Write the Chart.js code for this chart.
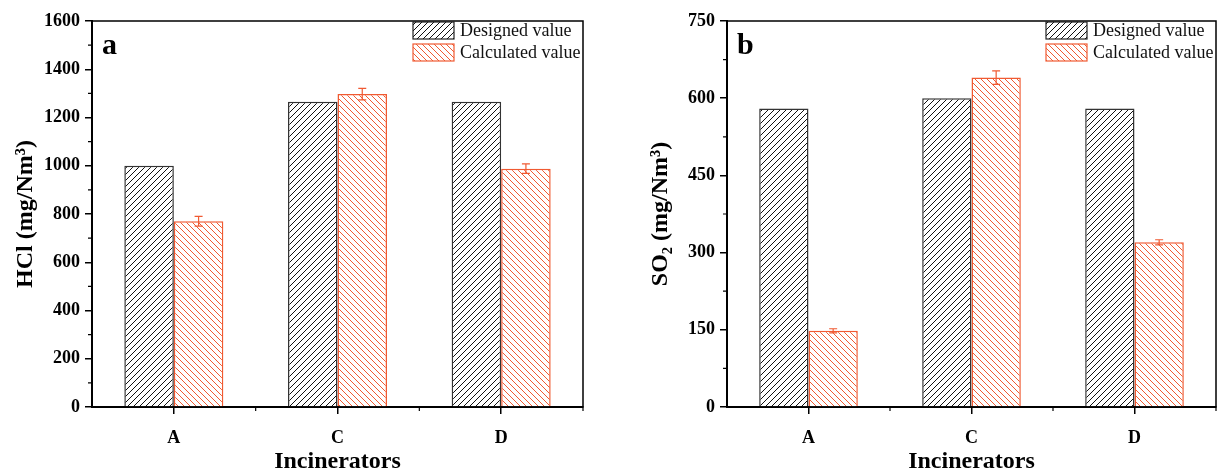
<!DOCTYPE html>
<html>
<head>
<meta charset="utf-8">
<script src="https://cdn.jsdelivr.net/npm/chart.js@4/dist/chart.umd.min.js"></script>
<style>
  body { margin: 0; background: #fff; }
  #wrapA { position: absolute; left: 0; top: 0; }
  #wrapB { position: absolute; left: 608px; top: 0; }
</style>
</head>
<body>
<div id="wrapA"><canvas id="chartA" width="608" height="474"></canvas></div>
<div id="wrapB"><canvas id="chartB" width="609" height="474"></canvas></div>
<script>
const categories = ["A", "C", "D"];
const legendLabels = ["Designed value", "Calculated value"];

const hclDesigned = [1000, 1265, 1265];
const hclCalculated = [770, 1297, 988];
const hclError = [20, 24, 20];

const so2Designed = [580, 600, 580];
const so2Calculated = [148, 640, 320];
const so2Error = [4, 13, 5];

const hclAxis = { min: 0, max: 1600, step: 200 };
const so2Axis = { min: 0, max: 750, step: 150 };

const orange = "#f05a32";
const fontFam = "'Liberation Serif', 'Times New Roman', serif";

function makeHatch(color, back) {
  const c = document.createElement("canvas");
  c.width = 6;
  c.height = 6;
  const g = c.getContext("2d");
  g.fillStyle = "#fff";
  g.fillRect(0, 0, 6, 6);
  g.strokeStyle = color;
  g.lineWidth = 1;
  g.beginPath();
  if (back) {
    g.moveTo(0, 0); g.lineTo(6, 6);
    g.moveTo(5, -1); g.lineTo(7, 1);
    g.moveTo(-1, 5); g.lineTo(1, 7);
  } else {
    g.moveTo(0, 6); g.lineTo(6, 0);
    g.moveTo(-1, 1); g.lineTo(1, -1);
    g.moveTo(5, 7); g.lineTo(7, 5);
  }
  g.stroke();
  return g.createPattern(c, "repeat");
}

const blackHatch = makeHatch("#111", false);
const orangeHatch = makeHatch(orange, true);

// error bars, legend, frame, minor ticks, panel letter
const extras = {
  id: "extras",
  afterDatasetsDraw(chart, args, opts) {
    const ctx = chart.ctx;
    const ys = chart.scales.y;
    const meta = chart.getDatasetMeta(1);
    const vals = chart.data.datasets[1].data;
    ctx.save();
    ctx.strokeStyle = orange;
    ctx.lineWidth = 1.2;
    meta.data.forEach((bar, i) => {
      const top = ys.getPixelForValue(vals[i] + opts.errors[i]);
      const bot = ys.getPixelForValue(vals[i] - opts.errors[i]);
      ctx.beginPath();
      ctx.moveTo(bar.x, top); ctx.lineTo(bar.x, bot);
      ctx.moveTo(bar.x - 4, top); ctx.lineTo(bar.x + 4, top);
      ctx.moveTo(bar.x - 4, bot); ctx.lineTo(bar.x + 4, bot);
      ctx.stroke();
    });
    ctx.restore();
  },
  afterDraw(chart, args, opts) {
    const ctx = chart.ctx;
    const a = chart.chartArea;
    const ys = chart.scales.y;
    ctx.save();
    // frame top and right
    ctx.strokeStyle = "#000";
    ctx.lineWidth = 1.5;
    ctx.beginPath();
    ctx.moveTo(a.left, a.top); ctx.lineTo(a.right, a.top); ctx.lineTo(a.right, a.bottom);
    ctx.stroke();
    // minor ticks
    ctx.lineWidth = 1.2;
    ctx.beginPath();
    for (let v = opts.axis.min + opts.axis.step / 2; v < opts.axis.max; v += opts.axis.step) {
      const y = ys.getPixelForValue(v);
      ctx.moveTo(a.left, y); ctx.lineTo(a.left - 4, y);
    }
    const cw = (a.right - a.left) / categories.length;
    for (let i = 1; i <= categories.length; i++) {
      const x = a.left + i * cw;
      ctx.moveTo(x, a.bottom); ctx.lineTo(x, a.bottom + 4);
    }
    ctx.stroke();
    // panel letter
    ctx.fillStyle = "#000";
    ctx.font = "bold 30px " + fontFam;
    ctx.textBaseline = "alphabetic";
    ctx.textAlign = "left";
    ctx.fillText(opts.letter, a.left + 10, a.top + 33);
    // legend
    const bx = a.right - 170;
    const fills = [blackHatch, orangeHatch];
    const strokes = ["#222", orange];
    ctx.font = "18px " + fontFam;
    ctx.textBaseline = "middle";
    legendLabels.forEach((lab, i) => {
      const by = a.top + 1 + i * 22;
      ctx.fillStyle = fills[i];
      ctx.fillRect(bx, by, 41, 17);
      ctx.strokeStyle = strokes[i];
      ctx.lineWidth = 1.2;
      ctx.strokeRect(bx, by, 41, 17);
      ctx.fillStyle = "#111";
      ctx.fillText(lab, bx + 47, by + 9);
    });
    ctx.restore();
  }
};

function makeChart(id, designed, calculated, errors, axis, yTitle, yWidth, titlePad, rightPad, letter) {
  return new Chart(document.getElementById(id), {
    type: "bar",
    data: {
      labels: categories,
      datasets: [
        {
          label: legendLabels[0],
          data: designed,
          backgroundColor: blackHatch,
          borderColor: "#333",
          borderWidth: 1.5
        },
        {
          label: legendLabels[1],
          data: calculated,
          backgroundColor: orangeHatch,
          borderColor: orange,
          borderWidth: 1.5
        }
      ]
    },
    options: {
      responsive: false,
      animation: false,
      layout: { padding: { top: 21, right: rightPad, left: 0, bottom: 0 } },
      datasets: { bar: { barPercentage: 1, categoryPercentage: 0.605 } },
      plugins: {
        legend: { display: false },
        tooltip: { enabled: false },
        extras: { errors: errors, axis: axis, letter: letter }
      },
      scales: {
        x: {
          afterFit(scale) { scale.height = 67; },
          grid: { drawOnChartArea: false, offset: false, tickLength: 7, color: "#000", lineWidth: 1.5 },
          border: { color: "#000", width: 2 },
          ticks: { color: "#000", padding: 14, font: { family: fontFam, size: 18, weight: "bold" } },
          title: {
            display: true,
            text: "Incinerators",
            color: "#000",
            padding: { top: 0, bottom: 0 },
            font: { family: fontFam, size: 24, weight: "bold", lineHeight: 1 }
          }
        },
        y: {
          min: axis.min,
          max: axis.max,
          afterFit(scale) { scale.width = yWidth; },
          grid: { drawOnChartArea: false, tickLength: 7, color: "#000", lineWidth: 1.5 },
          border: { color: "#000", width: 2 },
          ticks: {
            stepSize: axis.step,
            color: "#000",
            padding: 5,
            callback: (v) => String(v),
            font: { family: fontFam, size: 18, weight: "bold" }
          },
          title: {
            display: true,
            text: yTitle,
            color: "#000",
            padding: { top: titlePad, bottom: 0 },
            font: { family: fontFam, size: 24, weight: "bold", lineHeight: 1 }
          }
        }
      }
    },
    plugins: [extras]
  });
}

makeChart("chartA", hclDesigned, hclCalculated, hclError, hclAxis, "HCl (mg/Nm³)", 92, 14, 25, "a");
makeChart("chartB", so2Designed, so2Calculated, so2Error, so2Axis, "SO₂ (mg/Nm³)", 119, 41, 1, "b");
</script>
</body>
</html>
